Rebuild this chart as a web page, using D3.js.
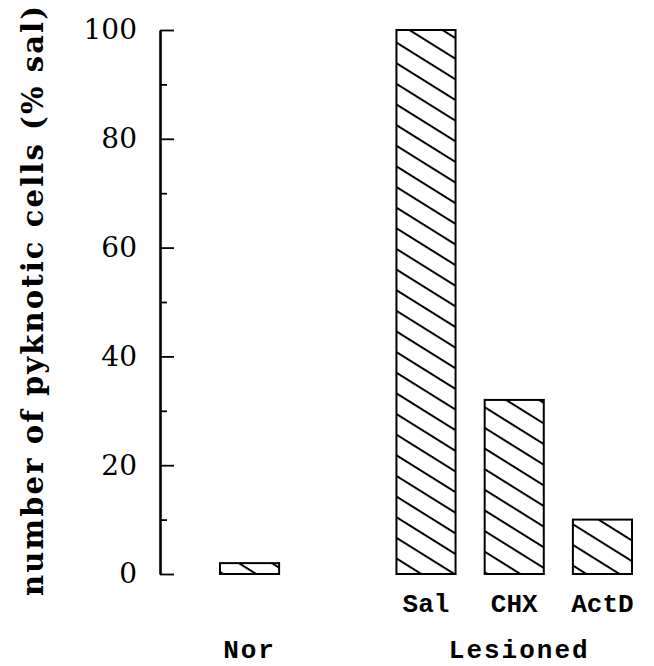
<!DOCTYPE html>
<html>
<head>
<meta charset="utf-8">
<script src="https://cdn.jsdelivr.net/npm/d3@7"></script>
<style>
  body { margin: 0; background: #fff; }
  svg { display: block; }
</style>
</head>
<body>
<script>
// bar data (% of saline lesioned)
const categories = ['Nor', 'Sal', 'CHX', 'ActD']
const values = [2, 100, 32, 10]
// spacer slot sits between the normal bar and the lesioned group
const slots = ['Nor', 'gap', 'Sal', 'CHX', 'ActD']
const groups = [
    { name: 'Nor', members: ['Nor'] },
    { name: 'Lesioned', members: ['Sal', 'CHX', 'ActD'] }
]
const majorTicks = [0, 20, 40, 60, 80, 100]
const minorTicks = [10, 30, 50, 70, 90]

const width = 654
const height = 666

const svg = d3.select('body')
    .append('svg')
    .attr('width', width)
    .attr('height', height)

// hatch pattern: "\\" lines
const defs = svg.append('defs')
defs.append('pattern')
    .attr('id', 'hatch')
    .attr('patternUnits', 'userSpaceOnUse')
    .attr('width', 10)
    .attr('height', 17.5)
    .attr('patternTransform', 'rotate(32)')
    .append('line')
    .attr('x1', 0).attr('y1', 1)
    .attr('x2', 10).attr('y2', 1)
    .attr('stroke', '#000')
    .attr('stroke-width', 2)

const y = d3.scaleLinear()
    .domain([0, 100])
    .range([574, 30])

const x = d3.scaleBand()
    .domain(slots)
    .range([220, 632])
    .paddingInner(0.33)
    .paddingOuter(0)

// y axis, ticks pointing inward
const axis = svg.append('g')
    .attr('transform', 'translate(160,0)')

axis.call(d3.axisLeft(y)
    .tickValues(majorTicks)
    .tickSize(-14)
    .tickSizeOuter(0)
    .tickPadding(23)
    .tickFormat(d3.format('d')))

axis.append('g').call(d3.axisLeft(y)
    .tickValues(minorTicks)
    .tickSize(-7)
    .tickFormat(''))
    .select('.domain').remove()

axis.selectAll('path.domain').attr('stroke-width', 2.6).attr('stroke', '#000')
axis.selectAll('.tick line').attr('stroke-width', 1.8).attr('stroke', '#000')
axis.selectAll('.tick text')
    .attr('fill', '#000')
    .style('font-family', '"DejaVu Serif", serif')
    .style('font-size', '28px')

// y label
svg.append('text')
    .attr('transform', 'translate(43,301) rotate(-90)')
    .attr('text-anchor', 'middle')
    .attr('textLength', 590)
    .attr('lengthAdjust', 'spacing')
    .style('font-family', '"DejaVu Serif", serif')
    .style('font-weight', 'bold')
    .style('font-size', '29px')
    .text('number of pyknotic cells (% sal)')

// bars
const bars = categories.map((c, i) => ({ cat: c, value: values[i] }))

svg.selectAll('rect.bar')
    .data(bars)
    .enter()
    .append('rect')
    .attr('class', 'bar')
    .attr('x', d => x(d.cat))
    .attr('y', d => y(d.value))
    .attr('width', x.bandwidth())
    .attr('height', d => y(0) - y(d.value))
    .attr('fill', 'url(#hatch)')
    .attr('stroke', '#000')
    .attr('stroke-width', 2)

// drug labels under the lesioned bars
svg.selectAll('text.cat')
    .data(bars.filter(d => d.cat !== 'Nor'))
    .enter()
    .append('text')
    .attr('class', 'cat')
    .attr('x', d => x(d.cat) + x.bandwidth() / 2)
    .attr('y', 612)
    .attr('text-anchor', 'middle')
    .style('font-family', '"Liberation Mono", monospace')
    .style('font-weight', 'bold')
    .style('font-size', '26px')
    .text(d => d.cat)

// group labels
svg.selectAll('text.group')
    .data(groups)
    .enter()
    .append('text')
    .attr('class', 'group')
    .attr('x', d => {
        const first = x(d.members[0])
        const last = x(d.members[d.members.length - 1]) + x.bandwidth()
        return (first + last) / 2 + (d.members.length > 1 ? 5 : 0)
    })
    .attr('y', 658)
    .attr('text-anchor', 'middle')
    .style('font-family', '"Liberation Mono", monospace')
    .style('font-weight', 'bold')
    .style('font-size', '26px')
    .style('letter-spacing', '2px')
    .text(d => d.name)
</script>
</body>
</html>
